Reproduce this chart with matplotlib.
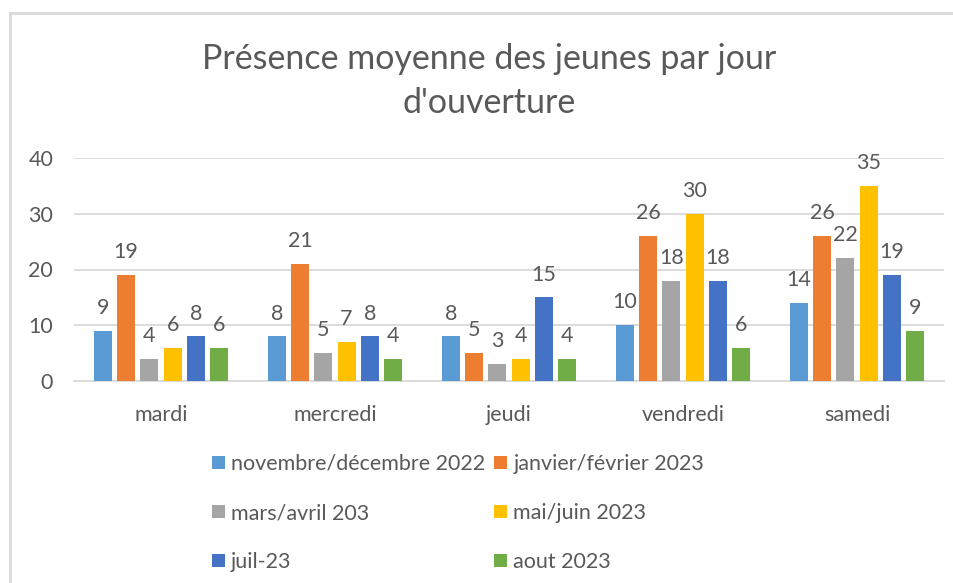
import numpy as np
import matplotlib.pyplot as plt
from matplotlib.lines import Line2D

# data
jours = ['mardi', 'mercredi', 'jeudi', 'vendredi', 'samedi']
series = ['novembre/décembre 2022', 'janvier/février 2023', 'mars/avril 203',
          'mai/juin 2023', 'juil-23', 'aout 2023']
nov_dec = [9, 8, 8, 10, 14]
jan_fev = [19, 21, 5, 26, 26]
mars_avr = [4, 5, 3, 18, 22]
mai_juin = [6, 7, 4, 30, 35]
juil = [8, 8, 15, 18, 19]
aout = [6, 4, 4, 6, 9]
values = [nov_dec, jan_fev, mars_avr, mai_juin, juil, aout]
colors = ['#5B9BD5', '#ED7D31', '#A5A5A5', '#FFC000', '#4472C4', '#70AD47']

txt = '#595959'
grid = '#D9D9D9'
fs = 15.5
plt.rcParams['font.family'] = ['Lato', 'DejaVu Sans']

fig = plt.figure(figsize=(9.54, 5.83), dpi=100)
ax = fig.add_axes([74/954, 1 - 381/583, 870/954, 223/583])

x = np.arange(len(jours))
step = 0.1333
width = 0.103
handles = []
for i, (vals, col, name) in enumerate(zip(values, colors, series)):
    pos = x + (i - 2.5) * step
    bars = ax.bar(pos, vals, width, color=col, label=name, zorder=3)
    handles.append(bars)
    for p, v in zip(pos, vals):
        ax.text(p, v + 4.1, str(v), ha='center', va='center', fontsize=fs, color=txt)

ax.set_xlim(-0.5, 4.5)
ax.set_ylim(0, 40)
ax.set_yticks([0, 10, 20, 30, 40])
ax.set_xticks(x)
ax.set_xticklabels(jours)
ax.tick_params(axis='both', length=0, labelsize=fs, labelcolor=txt)
ax.tick_params(axis='x', pad=17)
ax.tick_params(axis='y', pad=15)
ax.grid(axis='y', color=grid, linewidth=1.3, zorder=0)
for s in ['top', 'right', 'left']:
    ax.spines[s].set_visible(False)
ax.spines['bottom'].set_color(grid)
ax.spines['bottom'].set_linewidth(1.3)

fig.text(489/954, 1 - 81/583, "Présence moyenne des jeunes par jour\nd'ouverture",
         ha='center', va='center', fontsize=24.5, color=txt, linespacing=1.45)

# legend in row order like excel
order = [0, 2, 4, 1, 3, 5]
leg = fig.legend([handles[k] for k in order], [series[k] for k in order],
                 ncol=2, loc='center', bbox_to_anchor=(458/954, 1 - 513/583),
                 frameon=False, fontsize=fs, handlelength=0.6, handleheight=0.6,
                 handletextpad=0.3, columnspacing=0.4, labelspacing=1.35)
for t in leg.get_texts():
    t.set_color(txt)

# chart border
fig.add_artist(Line2D([10/954, 10/954], [0, 1 - 13/583], transform=fig.transFigure,
                      color=grid, linewidth=2))
fig.add_artist(Line2D([10/954, 1], [1 - 13/583, 1 - 13/583], transform=fig.transFigure,
                      color=grid, linewidth=2))

fig.savefig('out.png', dpi=100)
